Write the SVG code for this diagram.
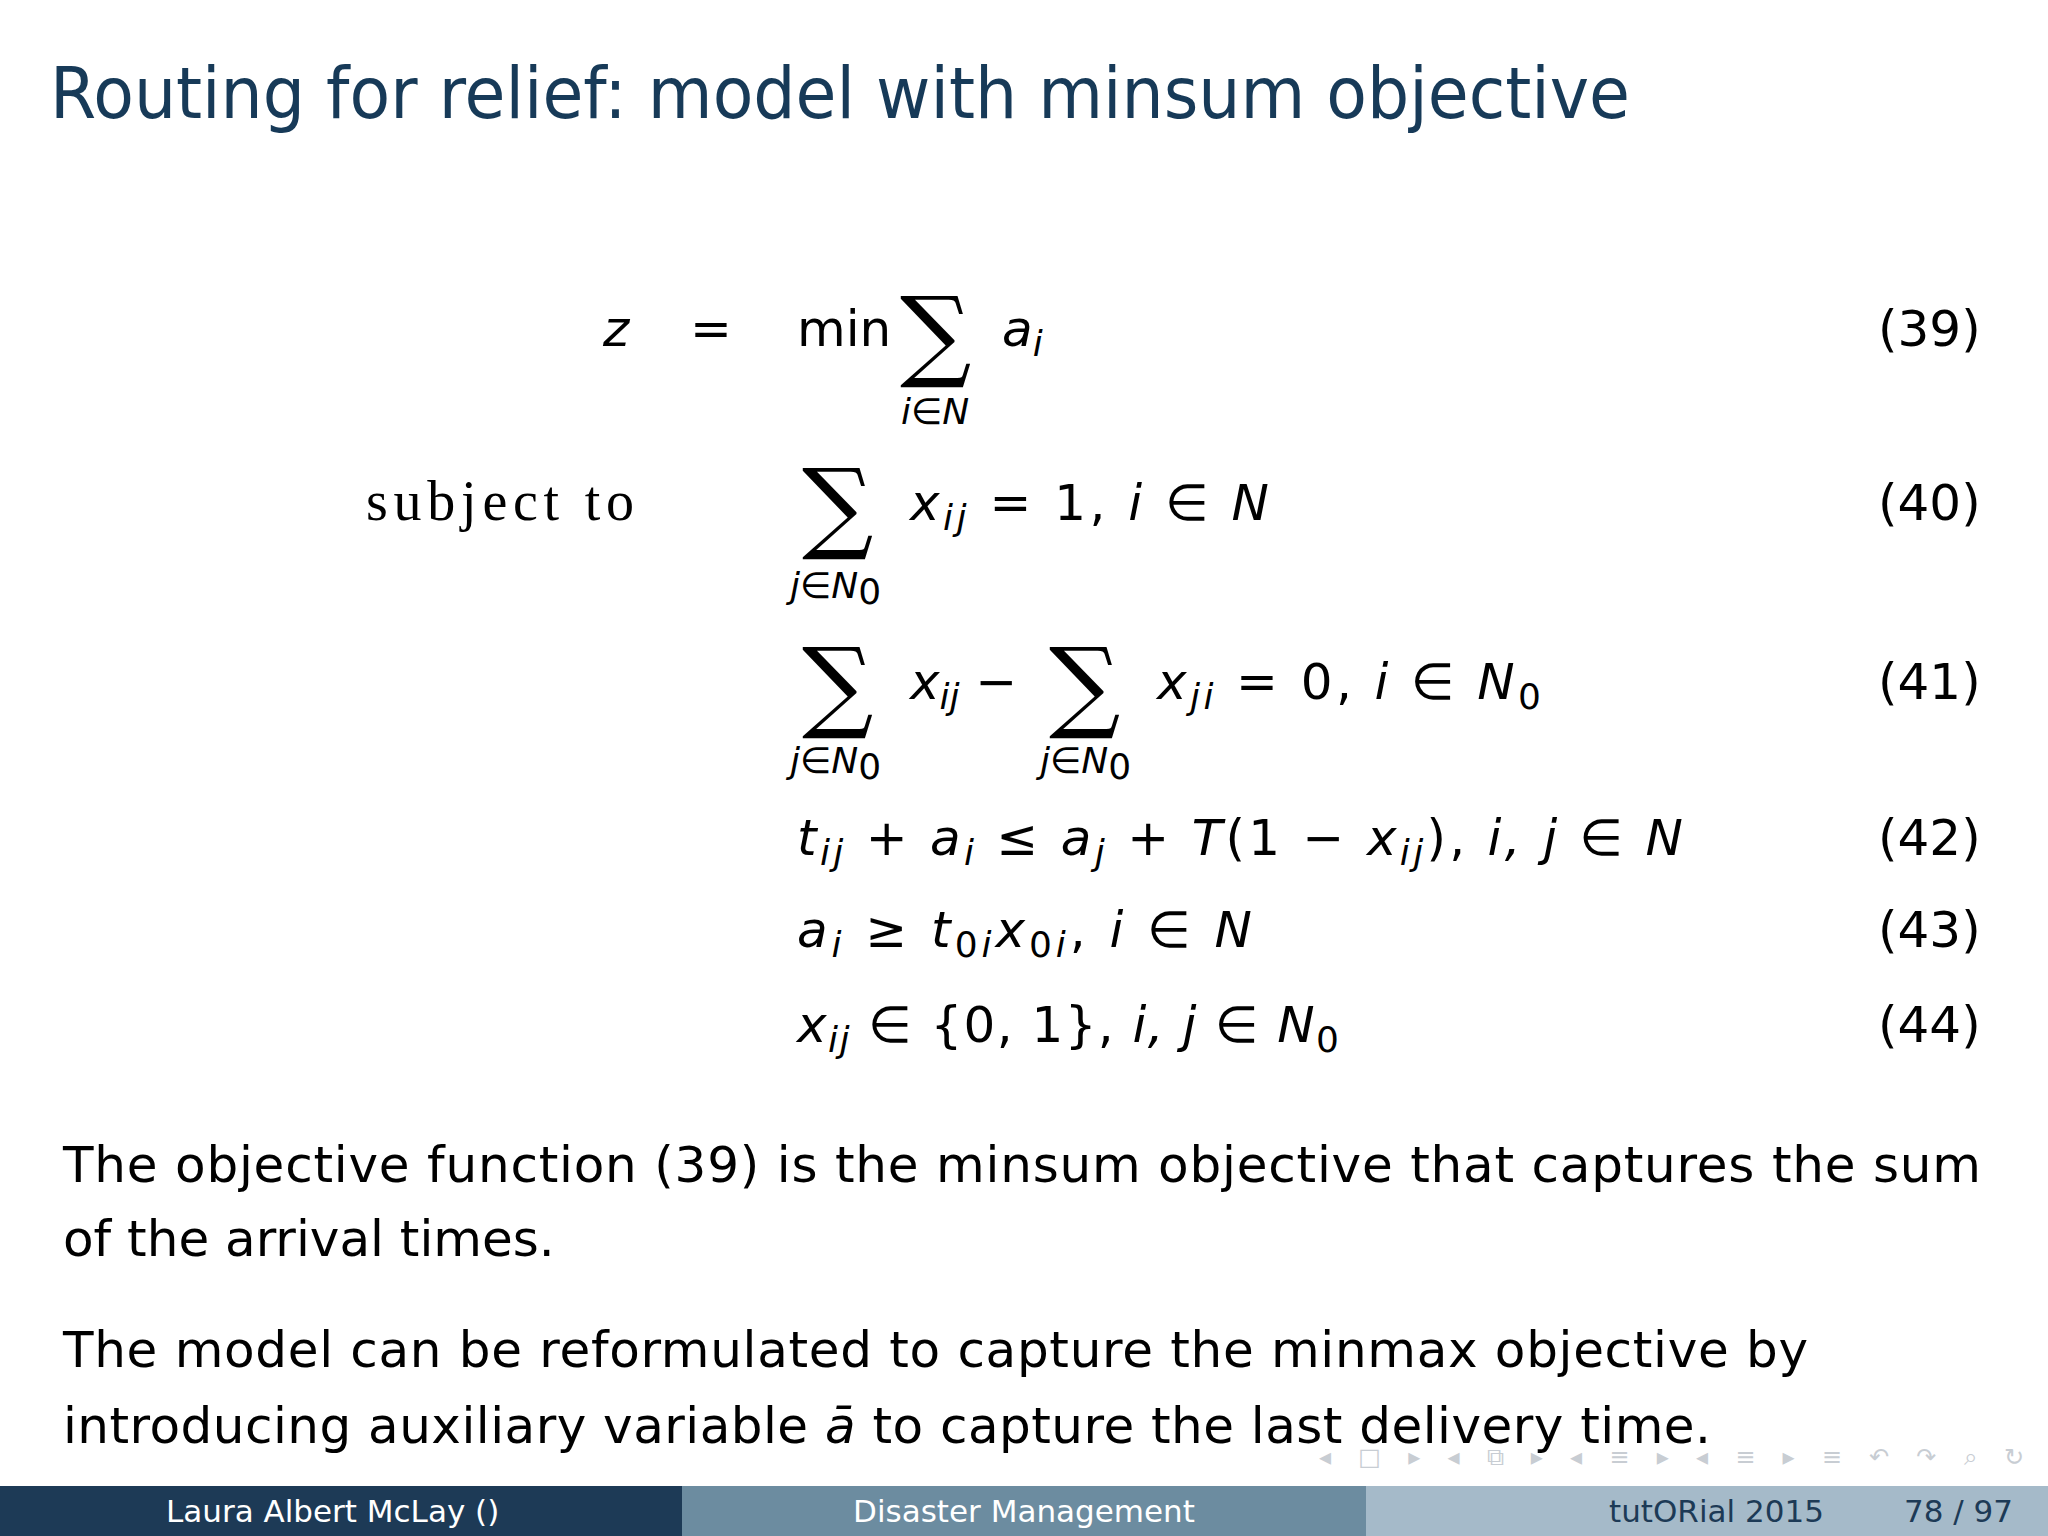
<svg xmlns="http://www.w3.org/2000/svg" width="2048" height="1536" viewBox="0 0 2048 1536">
<style>
.t{font-family:"DejaVu Sans","Liberation Sans",sans-serif;fill:#000}
.m{font-family:"DejaVu Sans",sans-serif;font-size:50px;fill:#000}
.i{font-style:italic}
.s{font-size:36px}
.sig{font-family:"DejaVu Serif",serif;font-size:100px}
.n{font-family:"DejaVu Sans",sans-serif;font-size:50px}
.p{font-family:"DejaVu Sans",sans-serif;font-size:50px;fill:#000}
.f{font-family:"DejaVu Sans",sans-serif;font-size:31px;fill:#fff}
.nav{font-family:"DejaVu Sans",sans-serif;font-size:24px;fill:#c8cdd3}
</style>
<rect width="2048" height="1536" fill="#fff"/>
<text x="50" y="118" font-family="DejaVu Sans,sans-serif" font-size="72" fill="#173a58" textLength="1580" lengthAdjust="spacingAndGlyphs">Routing for relief: model with minsum objective</text>
<g id="eq39">
<text class="m i" x="603" y="346">z</text>
<text class="m" x="690" y="346">=</text>
<text class="m" x="797" y="346">min</text>
<text class="m sig" x="900" y="368">∑</text>
<text class="m i" x="1002" y="346">a<tspan class="s" dy="10">i</tspan></text>
<text class="m i s" x="901" y="424">i∈N</text>
<text class="n" x="1878" y="346">(39)</text>
</g>
<g id="eq40">
<text x="366" y="520" font-family="Liberation Serif,serif" font-size="56" textLength="268" lengthAdjust="spacing">subject to</text>
<text class="m sig" x="802" y="540">∑</text>
<text class="m" x="910" y="520" textLength="359" lengthAdjust="spacing"><tspan class="i">x</tspan><tspan class="s i" dy="10">ij</tspan><tspan dy="-10"> = 1,  </tspan><tspan class="i">i</tspan> ∈ <tspan class="i">N</tspan></text>
<text class="m i s" x="790" y="598">j∈N<tspan font-style="normal" dy="6">0</tspan></text>
<text class="n" x="1878" y="520">(40)</text>
</g>
<g id="eq41">
<text class="m sig" x="802" y="719">∑</text>
<text class="m" x="910" y="699"><tspan class="i">x</tspan><tspan class="s i" dy="10">ij</tspan><tspan dy="-10"> −</tspan></text>
<text class="m sig" x="1049" y="719">∑</text>
<text class="m" x="1157" y="699" textLength="384" lengthAdjust="spacing"><tspan class="i">x</tspan><tspan class="s i" dy="10">ji</tspan><tspan dy="-10"> = 0,  </tspan><tspan class="i">i</tspan> ∈ <tspan class="i">N</tspan><tspan class="s" dy="10">0</tspan></text>
<text class="m i s" x="790" y="773">j∈N<tspan font-style="normal" dy="6">0</tspan></text>
<text class="m i s" x="1040" y="773">j∈N<tspan font-style="normal" dy="6">0</tspan></text>
<text class="n" x="1878" y="699">(41)</text>
</g>
<g id="eq42">
<text class="m" x="797" y="855" textLength="886" lengthAdjust="spacing"><tspan class="i">t</tspan><tspan class="s i" dy="10">ij</tspan><tspan dy="-10"> + </tspan><tspan class="i">a</tspan><tspan class="s i" dy="10">i</tspan><tspan dy="-10"> ≤ </tspan><tspan class="i">a</tspan><tspan class="s i" dy="10">j</tspan><tspan dy="-10"> + </tspan><tspan class="i">T</tspan>(1 − <tspan class="i">x</tspan><tspan class="s i" dy="10">ij</tspan><tspan dy="-10">),  </tspan><tspan class="i">i, j</tspan> ∈ <tspan class="i">N</tspan></text>
<text class="n" x="1878" y="855">(42)</text>
</g>
<g id="eq43">
<text class="m" x="797" y="947" textLength="455" lengthAdjust="spacing"><tspan class="i">a</tspan><tspan class="s i" dy="10">i</tspan><tspan dy="-10"> ≥ </tspan><tspan class="i">t</tspan><tspan class="s" dy="10">0</tspan><tspan class="s i">i</tspan><tspan class="i" dy="-10">x</tspan><tspan class="s" dy="10">0</tspan><tspan class="s i">i</tspan><tspan dy="-10">,  </tspan><tspan class="i">i</tspan> ∈ <tspan class="i">N</tspan></text>
<text class="n" x="1878" y="947">(43)</text>
</g>
<g id="eq44">
<text class="m" x="797" y="1042" textLength="542" lengthAdjust="spacing"><tspan class="i">x</tspan><tspan class="s i" dy="10">ij</tspan><tspan dy="-10"> ∈ {0, 1},  </tspan><tspan class="i">i, j</tspan> ∈ <tspan class="i">N</tspan><tspan class="s" dy="10">0</tspan></text>
<text class="n" x="1878" y="1042">(44)</text>
</g>
<g id="para">
<text class="p" x="63" y="1182" textLength="1918" lengthAdjust="spacing">The objective function (39) is the minsum objective that captures the sum</text>
<text class="p" x="63" y="1256">of the arrival times.</text>
<text class="p" x="63" y="1367" textLength="1745" lengthAdjust="spacing">The model can be reformulated to capture the minmax objective by</text>
<text class="p" x="63" y="1443" textLength="1648" lengthAdjust="spacing">introducing auxiliary variable <tspan class="i">ā</tspan> to capture the last delivery time.</text>
</g>
<g id="nav">
<text class="nav" x="1319" y="1465" textLength="705" lengthAdjust="spacing">◂ □ ▸  ◂ ⧉ ▸  ◂ ≡ ▸  ◂ ≡ ▸    ≡    ↶ ↷ ⌕ ↻</text>
</g>
<g id="footer">
<rect x="0" y="1486" width="682" height="50" fill="#1d3a56"/>
<rect x="682" y="1486" width="684" height="50" fill="#6c8ca0"/>
<rect x="1366" y="1486" width="682" height="50" fill="#a5bac9"/>
<text class="f" x="166" y="1522">Laura Albert McLay  ()</text>
<text class="f" x="1024" y="1522" text-anchor="middle">Disaster Management</text>
<text class="f" x="1609" y="1522" style="fill:#1d3a56">tutORial 2015</text>
<text class="f" x="1904" y="1522" style="fill:#1d3a56">78 / 97</text>
</g>
</svg>
